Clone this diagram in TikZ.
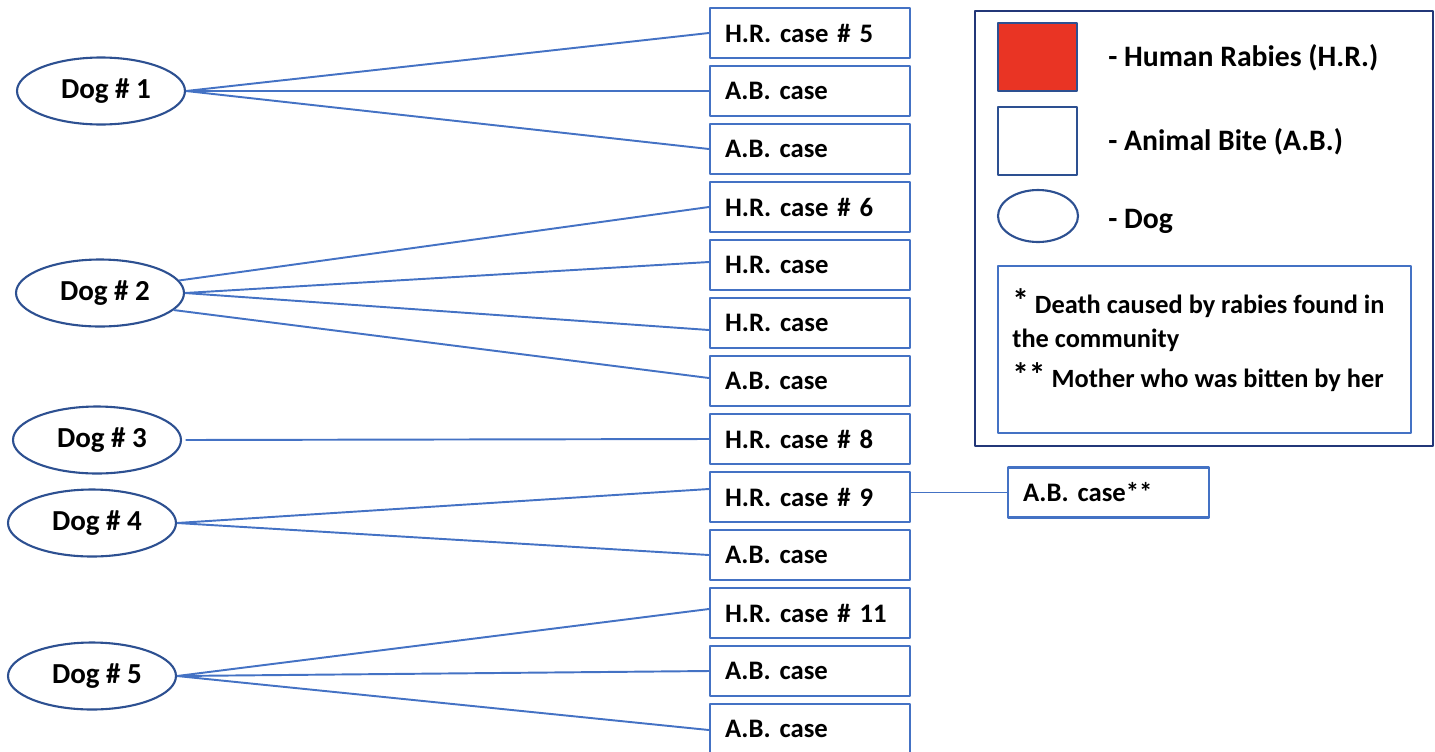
\documentclass[tikz,border=0pt]{standalone}
\usepackage{fontspec}
\setmainfont{Carlito}
\usetikzlibrary{shapes.geometric}
\definecolor{linkblue}{RGB}{68,114,196}
\definecolor{dogblue}{RGB}{45,80,145}
\definecolor{framenavy}{RGB}{35,55,120}
\definecolor{rabiesred}{RGB}{233,52,36}
\newcommand{\notestar}[1]{\raisebox{0.5pt}{\fontsize{19}{19}\selectfont #1}}

\begin{document}
\begin{tikzpicture}[x=0.02cm,y=-0.02cm,line join=round,
  font=\bfseries\fontsize{15.2}{18}\selectfont\frenchspacing,
  casebox/.style={draw=linkblue,line width=1.3pt,minimum height=1cm,
    text width=3.4cm,inner xsep=0.3cm,align=left},
  dognode/.style={ellipse,draw=dogblue,line width=1.2pt,minimum width=3.36cm,
    minimum height=1.34cm,inner sep=0pt,font=\bfseries\fontsize{16.5}{18}\selectfont},
  link/.style={draw=linkblue,line width=1.1pt}]
  \useasboundingbox (0,0) rectangle (1435,751);

  % dogs
  \node[dognode] (dog1) at (101,91) {\hspace{0.2cm}Dog \# 1};
  \node[dognode] (dog2) at (100,293) {\hspace{0.2cm}Dog \# 2};
  \node[dognode] (dog3) at (97,440) {\hspace{0.2cm}Dog \# 3};
  \node[dognode] (dog4) at (92,523) {\hspace{0.2cm}Dog \# 4};
  \node[dognode] (dog5) at (92,676) {\hspace{0.2cm}Dog \# 5};

  % cases
  \foreach \i/\txt in {1/H.R. case \# 5,2/A.B. case,3/A.B. case,4/H.R. case \# 6,
    5/H.R. case,6/H.R. case,7/A.B. case,8/H.R. case \# 8,9/H.R. case \# 9,
    10/A.B. case,11/H.R. case \# 11,12/A.B. case,13/A.B. case}
    \node[casebox] (c\i) at (810,{33+58*(\i-1)}) {\txt};
  \node[casebox,text width=3.42cm] (ab) at (1108.5,492.5) {A.B. case**};

  % links
  \draw[link] (dog1.east) -- (c1.west);
  \draw[link] (dog1.east) -- (c2.west);
  \draw[link] (dog1.east) -- (c3.west);
  \draw[link] (dog2.9) -- (c4.west);
  \draw[link] (dog2.east) -- ([yshift=0.06cm]c5.west);
  \draw[link] (dog2.east) -- ([yshift=-0.14cm]c6.west);
  \draw[link] (dog2.-13) -- ([yshift=0.06cm]c7.west);
  \draw[link,shorten <=2pt] (dog3.east) -- (c8.west);
  \draw[link] (dog4.east) -- ([yshift=0.16cm]c9.west);
  \draw[link] (dog4.east) -- (c10.west);
  \draw[link] (dog5.east) -- ([yshift=0.08cm]c11.west);
  \draw[link] (dog5.east) -- (c12.west);
  \draw[link] (dog5.east) -- ([yshift=-0.02cm]c13.west);
  \draw[link] (c9.east |- ab.west) -- (ab.west);

  % legend
  \draw[framenavy,line width=1.2pt] (975,11) rectangle (1433,446);
  \draw[dogblue,fill=rabiesred,line width=1.2pt] (998,23) rectangle (1077,91);
  \draw[dogblue,line width=1.2pt] (998,107) rectangle (1077,175);
  \draw[dogblue,line width=1.2pt] (1038,216) ellipse (40 and 26);
  \begin{scope}[font=\bfseries\fontsize{16.9}{19}\selectfont]
    \node[anchor=west,inner sep=0pt] (hr) at (1108,58) {- Human Rabies (H.R.)};
    \node[anchor=west,inner sep=0pt] (abl) at (1108,142) {- Animal Bite (A.B.)};
    \node[anchor=west,inner sep=0pt] (dgl) at (1108,221) {- Dog};
  \end{scope}
  \draw[linkblue,line width=1.3pt] (998,266) rectangle (1411,433);
  \node[anchor=north west,inner sep=0pt,align=left,
    font=\bfseries\fontsize{15}{19.5}\selectfont] (note) at (1012,288)
    {\notestar{*} Death caused by rabies found in\\the community\\[3.5pt]\notestar{**} Mother who was bitten by her};
\end{tikzpicture}
\end{document}
